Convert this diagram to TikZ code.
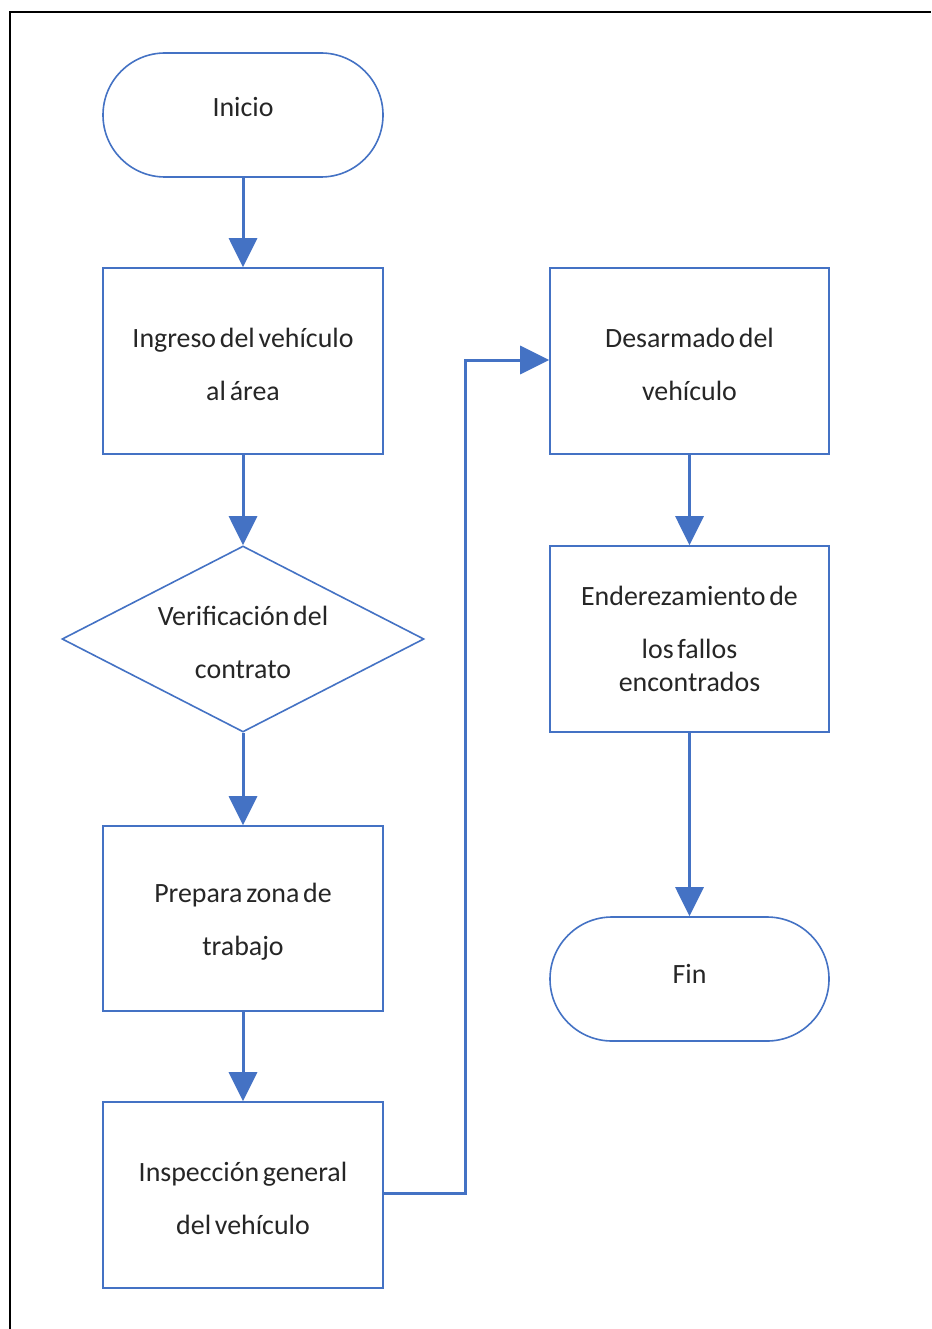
\documentclass[tikz,border=0pt]{standalone}
\usepackage{fontspec}
\setmainfont{Carlito}[WordSpace=0.6]
\usetikzlibrary{arrows.meta,shapes.geometric}
\definecolor{flowblue}{HTML}{4472C4}
\definecolor{flowtext}{HTML}{262626}
% taller first line, so two-line labels sit a little low in their boxes
\newcommand{\firstline}{\rule{0pt}{26bp}}
\begin{document}
\begin{tikzpicture}[x=1bp,y=-1bp,
  base/.style={draw=flowblue, line width=1.6bp, fill=white, text=flowtext,
    font=\fontsize{28}{33}\selectfont, align=center, inner sep=0pt},
  terminal/.style={base, rounded corners=62bp, minimum width=280bp, minimum height=124bp},
  process/.style={base, rectangle, minimum width=280bp, minimum height=186bp},
  decision/.style={base, diamond, aspect=1.95, minimum width=362bp, minimum height=186bp},
  conn/.style={draw=flowblue, line width=3bp,
    -{Triangle[width=28bp,length=29bp]}}]
  \useasboundingbox (0,0) rectangle (931,1329);
  % page frame, cut by the edges on the right and bottom
  \draw[line width=2bp, black] (10,1329) -- (10,12) -- (931,12);

  % left column
  \node[terminal, text depth=17bp] (inicio) at (243,115) {Inicio};
  \node[process]  (ingreso) at (243,361) {\firstline Ingreso del vehículo\\[20bp]al área};
  \node[decision] (verif) at (243,639) {\firstline Verificación del\\[20bp]contrato};
  \node[process, minimum height=185bp] (prepara) at (243,918.5) {\firstline Prepara zona de\\[20bp]trabajo};
  \node[process]  (inspec) at (243,1195) {\firstline Inspección general\\[20bp]del vehículo};

  % right column
  \node[process, minimum width=279bp] (desarm) at (689.5,361) {\firstline Desarmado del\\[20bp]vehículo};
  \node[process, minimum width=279bp] (endere) at (689.5,639) {Enderezamiento de\\[20bp]los fallos\\encontrados};
  \node[terminal, minimum width=279bp, text depth=10bp] (fin) at (689.5,979) {Fin};

  % connectors
  \draw[conn] (inicio) -- (ingreso);
  \draw[conn] (ingreso) -- (verif);
  \draw[conn] (verif) -- (prepara);
  \draw[conn] (prepara) -- (inspec);
  \draw[conn] ([yshift=2bp]inspec.east) -- ++(82,0) |- ([yshift=1bp]desarm.west);
  \draw[conn] (desarm) -- (endere);
  \draw[conn] (endere) -- (fin);
\end{tikzpicture}
\end{document}
